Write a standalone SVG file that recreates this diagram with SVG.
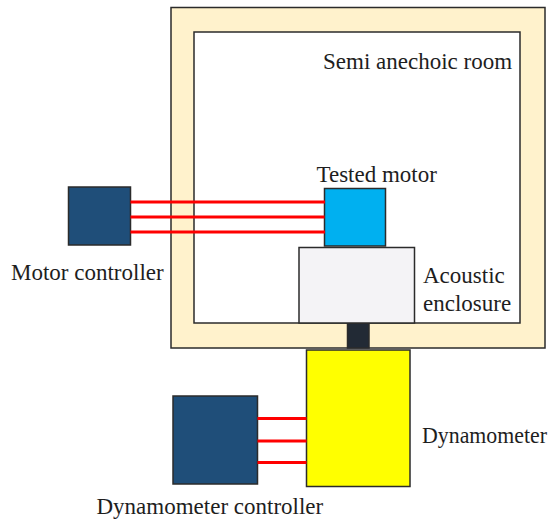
<svg xmlns="http://www.w3.org/2000/svg" width="553" height="521" viewBox="0 0 553 521">
<style>
.b{stroke:#2b2b2b;stroke-width:1.5}
.t{font-family:"Liberation Serif","Times New Roman",serif;font-size:23px;fill:#1e1e1e}
.w{stroke:#ff0000;stroke-width:3;fill:none}
</style>
<rect width="553" height="521" fill="#ffffff"/>
<g id="room">
<rect class="b" x="171" y="7.5" width="374" height="340.5" fill="#fff2cc"/>
<rect class="b" x="194" y="32" width="326" height="291" fill="#ffffff"/>
<text class="t" x="323" y="69">Semi anechoic room</text>
</g>
<g id="shaft"><rect class="b" x="347.5" y="323" width="21.5" height="25" fill="#222a35"/></g>
<g id="enclosure">
<rect class="b" x="299" y="247.5" width="115.5" height="75.5" fill="#f4f3f6"/>
<text class="t" x="423" y="283">Acoustic</text>
<text class="t" x="423" y="310.5">enclosure</text>
</g>
<g id="motor">
<rect class="b" x="324.5" y="188.5" width="61" height="57.5" fill="#00b0f0"/>
<text class="t" x="316.5" y="181.5">Tested motor</text>
</g>
<g id="motor_controller">
<rect class="b" x="68.5" y="187" width="62" height="58" fill="#1f4e79"/>
<text class="t" x="11" y="280">Motor controller</text>
</g>
<g id="dynamometer">
<rect class="b" x="306.5" y="350" width="103.5" height="136.5" fill="#ffff00"/>
<text class="t" x="422" y="442.5" font-size="22" textLength="125" lengthAdjust="spacingAndGlyphs">Dynamometer</text>
</g>
<g id="dynamometer_controller">
<rect class="b" x="173" y="396" width="84.5" height="88" fill="#1f4e79"/>
<text class="t" x="96.5" y="514">Dynamometer controller</text>
</g>
<g id="connectors">
<line class="w" x1="130.5" y1="202" x2="325" y2="202"/>
<line class="w" x1="130.5" y1="217" x2="324.5" y2="217"/>
<line class="w" x1="130.5" y1="232" x2="325" y2="232"/>
<line class="w" x1="257.5" y1="418.5" x2="306.5" y2="418.5"/>
<line class="w" x1="257.5" y1="441" x2="306.5" y2="441"/>
<line class="w" x1="257.5" y1="462.5" x2="306.5" y2="462.5"/>
</g>
</svg>
